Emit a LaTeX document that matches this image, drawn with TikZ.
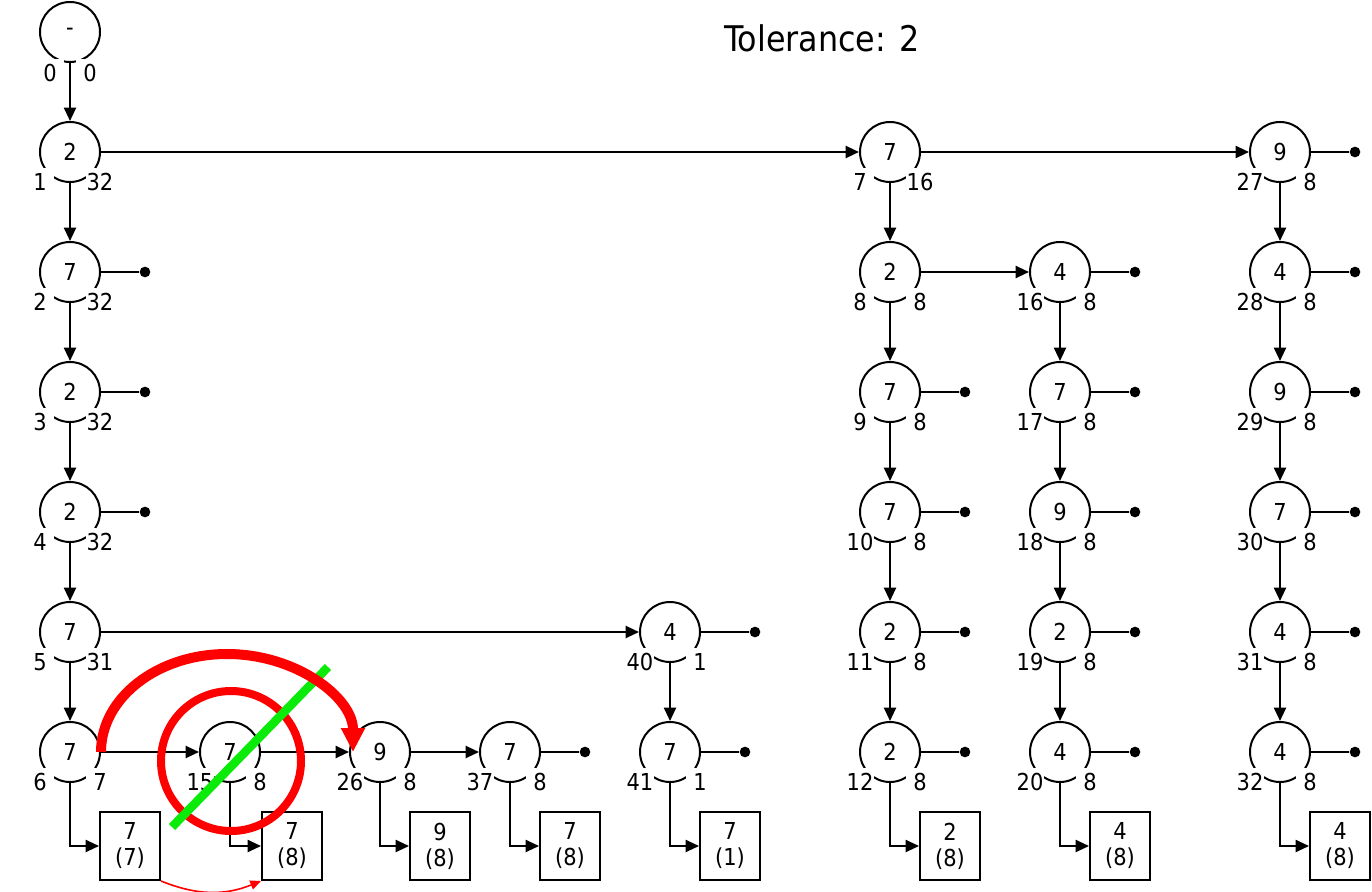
\documentclass[tikz,border=0pt]{standalone}
\usepackage{fontspec}
\setmainfont{DejaVu Sans Condensed}
\usetikzlibrary{arrows.meta}
\definecolor{strike}{RGB}{10,235,10}
\tikzset{
 st/.style={draw,circle,line width=1.5pt,minimum size=45pt,inner sep=0pt,font=\fontsize{17.5}{20}\selectfont},
 num/.style={fill=white,inner sep=0pt,minimum width=21pt,minimum height=21pt,font=\fontsize{17.5}{20}\selectfont},
 res/.style={draw,line width=1.5pt,minimum width=45pt,minimum height=51pt,inner sep=0pt,align=center,font=\fontsize{17.5}{19.5}\selectfont},
 arr/.style={-{Triangle[length=10pt,width=9pt]},line width=1.5pt},
 stub/.style={line width=1.5pt},
 dot/.style={circle,fill,inner sep=0pt,minimum size=8pt}
}
% state node: x, y, value, left number (also the name), right number
\newcommand\stnode[5]{%
 \node[st] (s#4) at (#1,#2) {#3};
 \node[num] (s#4l) at (#1-30,#2-30) {#4};
 \node[num] (s#4r) at (#1+30,#2-30) {#5};
}
% result box: name, x, value, count
\newcommand\resnode[4]{%
 \node[res] (r#1) at (#2,-846) {#3\\(#4)};
}

\begin{document}
\begin{tikzpicture}[x=0.75pt,y=0.75pt]
\useasboundingbox (0,0) rectangle (1372,-892);
\node[font=\fontsize{26.5}{30}\selectfont] (tol) at (822,-38) {Tolerance: 2};

% first column
\node[st] (s0) at (70,-32) {-};
\node[num] (s0l) at (50,-73) {0};
\node[num] (s0r) at (90,-73) {0};
\stnode{70}{-152}{2}{1}{32}
\stnode{70}{-272}{7}{2}{32}
\stnode{70}{-392}{2}{3}{32}
\stnode{70}{-512}{2}{4}{32}
\stnode{70}{-632}{7}{5}{31}
\stnode{70}{-752}{7}{6}{7}
% bottom row
\stnode{230}{-752}{7}{15}{8}
\stnode{380}{-752}{9}{26}{8}
\stnode{510}{-752}{7}{37}{8}
\stnode{670}{-632}{4}{40}{1}
\stnode{670}{-752}{7}{41}{1}
% right columns
\stnode{890}{-152}{7}{7}{16}
\stnode{890}{-272}{2}{8}{8}
\stnode{890}{-392}{7}{9}{8}
\stnode{890}{-512}{7}{10}{8}
\stnode{890}{-632}{2}{11}{8}
\stnode{890}{-752}{2}{12}{8}
\stnode{1060}{-272}{4}{16}{8}
\stnode{1060}{-392}{7}{17}{8}
\stnode{1060}{-512}{9}{18}{8}
\stnode{1060}{-632}{2}{19}{8}
\stnode{1060}{-752}{4}{20}{8}
\stnode{1280}{-152}{9}{27}{8}
\stnode{1280}{-272}{4}{28}{8}
\stnode{1280}{-392}{9}{29}{8}
\stnode{1280}{-512}{7}{30}{8}
\stnode{1280}{-632}{4}{31}{8}
\stnode{1280}{-752}{4}{32}{8}

% results
\resnode{6}{130}{7}{7}
\resnode{15}{292}{7}{8}
\resnode{26}{440}{9}{8}
\resnode{37}{570}{7}{8}
\resnode{41}{730}{7}{1}
\resnode{12}{950}{2}{8}
\resnode{20}{1120}{4}{8}
\resnode{32}{1340}{4}{8}

% edges
\foreach \a/\b in {0/1,1/2,2/3,3/4,4/5,5/6,40/41,7/8,8/9,9/10,10/11,11/12,
  16/17,17/18,18/19,19/20,27/28,28/29,29/30,30/31,31/32,
  1/7,7/27,8/16,5/40,6/15,15/26,26/37}
  \draw[arr] (s\a) -- (s\b);
\foreach \a in {6,15,26,37,41,12,20,32}
  \draw[arr] (s\a) |- (r\a);

% dead ends
\foreach \a/\x/\y in {27/1355/-152,2/145/-272,16/1135/-272,28/1355/-272,
  3/145/-392,9/965/-392,17/1135/-392,29/1355/-392,
  4/145/-512,10/965/-512,18/1135/-512,30/1355/-512,
  40/755/-632,11/965/-632,19/1135/-632,31/1355/-632,
  37/585/-752,41/745/-752,12/965/-752,20/1135/-752,32/1355/-752}{
  \node[dot] (t\a) at (\x,\y) {};
  \draw[stub] (s\a) -- (t\a);
}

% marks
\draw[red,line width=1.2pt,-{Triangle[length=8pt,width=7pt]}] (r6.south east) to[bend right=22] (r15.south west);
\draw[red,line width=6pt] (231,-761) circle[radius=70];
\draw[strike,line width=6.5pt] (172,-827) -- (328,-667);
\draw[red,line width=7.5pt,-{Triangle[length=18pt,width=17pt]}] (s6.east) arc[start angle=180,end angle=0,x radius=126,y radius=98];
\end{tikzpicture}
\end{document}
